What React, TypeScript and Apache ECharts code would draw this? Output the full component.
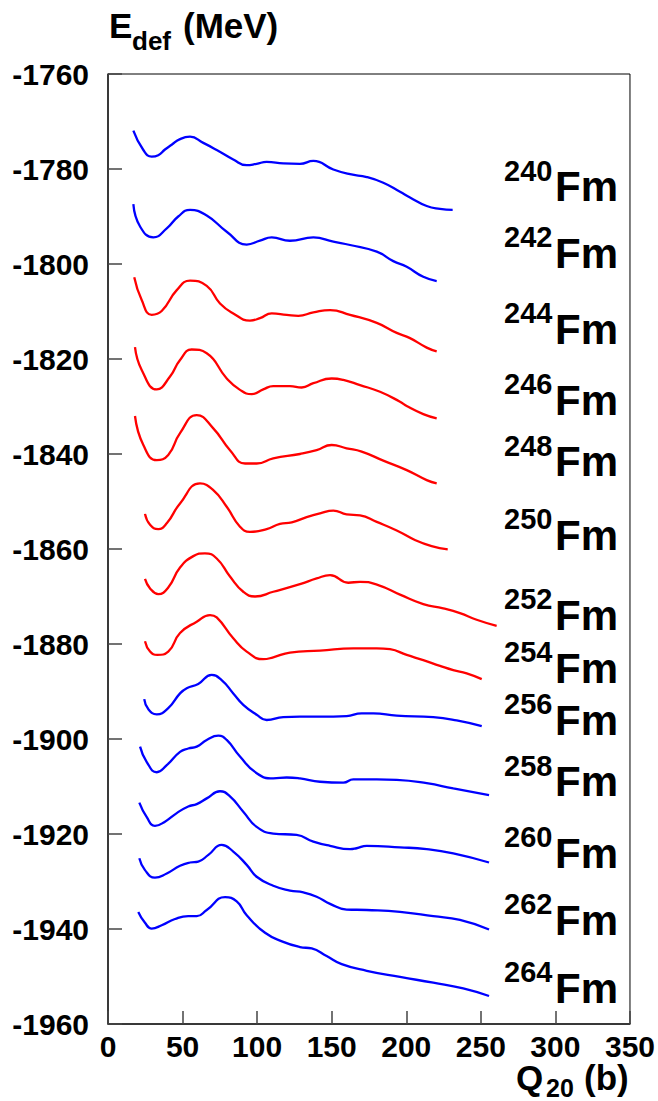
import React, { useEffect, useRef } from "react";
import * as echarts from "echarts";

// ---- data (Q20 in b, Edef in MeV) ----
const Q240 = [17.0, 23.7, 29.3, 33.7, 38.2, 42.7, 48.3, 55.0, 63.9, 72.9, 84.0, 93.0, 99.7, 106.4, 117.5, 128.7, 137.7, 151.1, 162.3, 173.5, 184.6, 195.8, 202.5, 213.7, 222.6, 231.1];
const E240 = [-1771.9, -1776.0, -1777.4, -1777.1, -1775.9, -1774.9, -1773.7, -1773.2, -1774.5, -1776.0, -1778.0, -1779.2, -1778.9, -1778.5, -1778.8, -1778.9, -1778.3, -1780.1, -1781.1, -1781.7, -1782.9, -1784.8, -1786.0, -1787.8, -1788.4, -1788.6];

const Q242 = [17.0, 21.5, 30.4, 39.4, 47.1, 55.0, 66.2, 79.6, 93.0, 101.9, 109.8, 122.0, 137.7, 151.1, 162.3, 180.2, 191.3, 200.3, 211.4, 220.4];
const E242 = [-1787.4, -1792.1, -1794.4, -1792.5, -1790.0, -1788.6, -1789.8, -1793.2, -1795.9, -1795.1, -1794.4, -1795.1, -1794.4, -1795.3, -1796.0, -1797.4, -1799.4, -1800.6, -1802.7, -1803.6];

const Q244 = [17.6, 22.6, 29.3, 36.0, 46.1, 55.0, 66.2, 75.1, 84.0, 95.2, 101.9, 109.8, 119.8, 127.6, 137.7, 148.9, 162.3, 180.2, 193.6, 202.5, 213.7, 220.4];
const E244 = [-1802.8, -1807.6, -1810.7, -1809.9, -1805.5, -1803.5, -1804.6, -1808.3, -1810.4, -1811.9, -1811.4, -1810.4, -1810.7, -1810.9, -1810.2, -1809.7, -1810.7, -1812.4, -1814.5, -1815.6, -1817.6, -1818.4];

const Q246 = [18.1, 22.6, 32.7, 41.6, 48.3, 56.1, 66.2, 79.6, 88.5, 96.4, 104.1, 110.8, 122.0, 129.9, 137.7, 150.0, 157.8, 169.0, 182.4, 195.8, 200.3, 211.4, 220.4];
const E246 = [-1817.5, -1822.3, -1826.4, -1823.7, -1820.2, -1818.0, -1818.8, -1824.1, -1826.5, -1827.4, -1826.4, -1825.7, -1825.7, -1826.0, -1825.1, -1824.1, -1824.4, -1825.5, -1826.9, -1829.0, -1829.9, -1831.6, -1832.5];

const Q248 = [18.1, 23.7, 32.7, 40.4, 48.3, 59.5, 70.6, 81.8, 91.9, 99.7, 110.8, 128.7, 139.9, 150.0, 160.0, 170.1, 184.6, 200.3, 213.7, 220.4];
const E248 = [-1832.0, -1838.1, -1841.3, -1840.2, -1835.6, -1831.8, -1834.6, -1839.2, -1842.0, -1842.0, -1840.9, -1840.0, -1839.2, -1838.1, -1838.8, -1839.5, -1841.4, -1843.4, -1845.5, -1846.2];

const Q250 = [24.8, 28.2, 33.7, 39.4, 48.3, 61.7, 70.6, 79.6, 88.5, 95.2, 106.4, 115.3, 123.2, 133.2, 142.2, 151.1, 160.0, 169.0, 180.2, 193.6, 205.8, 217.0, 227.8];
const E250 = [-1852.6, -1854.9, -1855.8, -1854.6, -1850.4, -1846.2, -1847.6, -1851.1, -1855.3, -1856.4, -1855.8, -1854.7, -1854.4, -1853.3, -1852.5, -1851.9, -1852.7, -1852.9, -1854.3, -1856.1, -1858.1, -1859.4, -1860.1];

const Q252 = [24.8, 28.2, 33.7, 40.4, 48.3, 57.2, 65.0, 72.9, 81.8, 90.7, 98.6, 110.8, 128.7, 139.9, 148.9, 161.1, 169.0, 181.2, 195.8, 211.4, 224.8, 236.0, 247.2, 260.6];
const E252 = [-1866.3, -1868.3, -1869.5, -1868.1, -1863.9, -1861.5, -1860.9, -1862.0, -1865.8, -1869.0, -1870.0, -1869.0, -1867.4, -1866.2, -1865.5, -1867.1, -1866.9, -1867.6, -1869.6, -1871.6, -1872.5, -1873.5, -1874.9, -1876.2];

const Q254 = [24.8, 28.2, 33.1, 40.4, 48.3, 59.5, 68.4, 72.9, 84.0, 93.0, 104.1, 110.8, 122.0, 142.2, 164.5, 180.2, 189.1, 200.3, 211.4, 222.6, 231.5, 240.5, 250.6];
const E254 = [-1879.4, -1881.6, -1882.3, -1881.6, -1877.7, -1875.3, -1873.9, -1874.4, -1878.8, -1881.6, -1883.2, -1882.8, -1881.8, -1881.4, -1880.9, -1880.9, -1881.1, -1882.3, -1883.4, -1884.6, -1885.5, -1886.2, -1887.4];

const Q256 = [24.3, 27.0, 32.7, 40.4, 48.3, 52.8, 60.5, 69.5, 76.2, 84.0, 90.7, 99.7, 106.4, 117.5, 128.7, 151.1, 160.0, 170.1, 177.9, 193.6, 218.1, 233.8, 250.6];
const E256 = [-1891.6, -1893.7, -1894.8, -1893.5, -1890.4, -1889.3, -1888.4, -1886.5, -1887.6, -1890.4, -1892.8, -1894.9, -1896.0, -1895.4, -1895.3, -1895.3, -1895.2, -1894.6, -1894.6, -1895.1, -1895.4, -1896.1, -1897.3];

const Q258 = [21.5, 25.9, 32.7, 39.4, 48.3, 53.8, 59.5, 66.2, 74.0, 79.6, 88.5, 99.7, 110.8, 119.8, 128.7, 142.2, 157.8, 164.5, 180.2, 193.6, 213.7, 231.5, 255.5];
const E258 = [-1901.6, -1904.8, -1907.0, -1905.5, -1902.7, -1902.0, -1901.6, -1900.2, -1899.3, -1900.2, -1903.7, -1907.2, -1908.3, -1908.1, -1908.3, -1909.0, -1909.2, -1908.5, -1908.5, -1908.6, -1909.3, -1910.4, -1911.8];

const Q260 = [21.0, 25.9, 31.5, 38.2, 46.1, 53.8, 59.5, 66.2, 75.1, 81.8, 90.7, 99.7, 110.8, 126.5, 137.7, 148.9, 162.3, 166.7, 173.5, 195.8, 213.7, 231.5, 255.5];
const E260 = [-1913.4, -1916.4, -1918.3, -1917.4, -1915.6, -1914.2, -1913.7, -1912.5, -1911.0, -1912.1, -1915.3, -1918.5, -1919.9, -1920.2, -1921.6, -1922.5, -1923.2, -1923.0, -1922.5, -1922.8, -1923.2, -1924.1, -1926.0];

const Q262 = [21.0, 24.8, 31.5, 39.4, 48.3, 55.0, 60.5, 67.3, 76.2, 84.0, 93.0, 99.7, 110.8, 122.0, 131.0, 139.9, 148.9, 160.0, 173.5, 195.8, 218.1, 236.0, 255.5];
const E262 = [-1925.1, -1927.6, -1929.2, -1928.3, -1926.7, -1926.0, -1925.8, -1924.4, -1922.3, -1923.7, -1926.5, -1929.0, -1930.9, -1931.9, -1932.3, -1933.2, -1934.7, -1935.9, -1936.0, -1936.4, -1937.3, -1938.1, -1940.1];

const Q264 = [20.3, 24.8, 29.3, 36.0, 44.9, 53.8, 59.5, 66.2, 78.5, 86.3, 93.0, 105.3, 117.5, 128.7, 136.6, 146.6, 156.7, 173.5, 195.8, 218.1, 238.2, 255.5];
const E264 = [-1936.4, -1938.7, -1939.9, -1939.2, -1937.9, -1937.3, -1937.3, -1936.0, -1933.3, -1934.2, -1937.1, -1940.8, -1942.7, -1943.8, -1944.1, -1945.7, -1947.4, -1948.8, -1950.1, -1951.3, -1952.5, -1954.1];

const MASSES = ["240", "242", "244", "246", "248", "250", "252", "254", "256", "258", "260", "262", "264"];
const QS = [Q240, Q242, Q244, Q246, Q248, Q250, Q252, Q254, Q256, Q258, Q260, Q262, Q264];
const ES = [E240, E242, E244, E246, E248, E250, E252, E254, E256, E258, E260, E262, E264];
const IS_RED = [false, false, true, true, true, true, true, true, false, false, false, false, false];

const X_TICKS = [0, 50, 100, 150, 200, 250, 300, 350];
const Y_MIN = -1960;
const Y_MAX = -1760;

// layout (pixels) for isotope labels: baseline of "Fm"
const LABEL_BASE = [201.7, 268.3, 344.3, 415, 476.7, 550, 630, 683.3, 735, 796.7, 868.3, 935, 1003.3];

const FONT = '"Liberation Sans", Arial, Helvetica, sans-serif';

export default function App() {
  const ref = useRef<HTMLDivElement>(null);
  useEffect(() => {
    if (!ref.current) return;
    const chart = echarts.init(ref.current, undefined, { renderer: "svg" });

    const series = MASSES.map((m, i) => ({
      name: m + "Fm",
      type: "line",
      data: QS[i].map((q, j) => [q, ES[i][j]]),
      showSymbol: false,
      symbol: "none",
      smooth: 0.5,
      lineStyle: { color: IS_RED[i] ? "#ff0000" : "#0000ff", width: 2.3 },
      itemStyle: { color: IS_RED[i] ? "#ff0000" : "#0000ff" },
      z: 3,
    }));

    const graphic: any[] = [];
    MASSES.forEach((m, i) => {
      const b = LABEL_BASE[i];
      graphic.push({
        type: "text",
        x: 504,
        y: b - 31,
        style: { text: m, font: `bold 29px ${FONT}`, fill: "#000", align: "left", verticalAlign: "middle" },
      });
      graphic.push({
        type: "text",
        x: 555,
        y: b - 15,
        style: { text: "Fm", font: `bold 42px ${FONT}`, fill: "#000", align: "left", verticalAlign: "middle" },
      });
    });
    // y-axis title
    graphic.push({ type: "text", x: 109, y: 25, style: { text: "E", font: `bold 35px ${FONT}`, fill: "#000", verticalAlign: "middle" } });
    graphic.push({ type: "text", x: 132, y: 41, style: { text: "def", font: `bold 26px ${FONT}`, fill: "#000", verticalAlign: "middle" } });
    graphic.push({ type: "text", x: 183, y: 25, style: { text: "(MeV)", font: `bold 35px ${FONT}`, fill: "#000", verticalAlign: "middle" } });
    // x-axis title
    graphic.push({ type: "text", x: 516, y: 1077, style: { text: "Q", font: `bold 35px ${FONT}`, fill: "#000", verticalAlign: "middle" } });
    graphic.push({ type: "text", x: 546, y: 1088, style: { text: "20", font: `bold 25px ${FONT}`, fill: "#000", verticalAlign: "middle" } });
    graphic.push({ type: "text", x: 584, y: 1077, style: { text: "(b)", font: `bold 35px ${FONT}`, fill: "#000", verticalAlign: "middle" } });

    chart.setOption({
      animation: false,
      backgroundColor: "#ffffff",
      grid: {
        left: 108,
        right: 28,
        top: 74,
        bottom: 77,
        show: true,
        borderColor: "#000",
        borderWidth: 1,
        backgroundColor: "transparent",
      },
      xAxis: {
        type: "value",
        min: X_TICKS[0],
        max: X_TICKS[X_TICKS.length - 1],
        interval: 50,
        axisLine: { show: true, lineStyle: { color: "#222", width: 1.5 } },
        axisTick: { show: true, inside: true, length: 13, lineStyle: { color: "#444", width: 1.5 } },
        splitLine: { show: false },
        axisLabel: { color: "#000", fontSize: 30, fontWeight: "bold", fontFamily: FONT, margin: 7, formatter: (v: number) => String(v) },
      },
      yAxis: {
        type: "value",
        min: Y_MIN,
        max: Y_MAX,
        interval: 20,
        axisLine: { show: true, lineStyle: { color: "#222", width: 1.5 } },
        axisTick: { show: true, inside: true, length: 14, lineStyle: { color: "#444", width: 1.5 } },
        splitLine: { show: false },
        axisLabel: { color: "#000", fontSize: 30, fontWeight: "bold", fontFamily: FONT, margin: 19, formatter: (v: number) => String(v) },
      },
      series,
      graphic,
    });
    return () => chart.dispose();
  }, []);
  return <div ref={ref} style={{ position: "fixed", left: 0, top: 0, width: 658, height: 1101, background: "#fff" }} />;
}
